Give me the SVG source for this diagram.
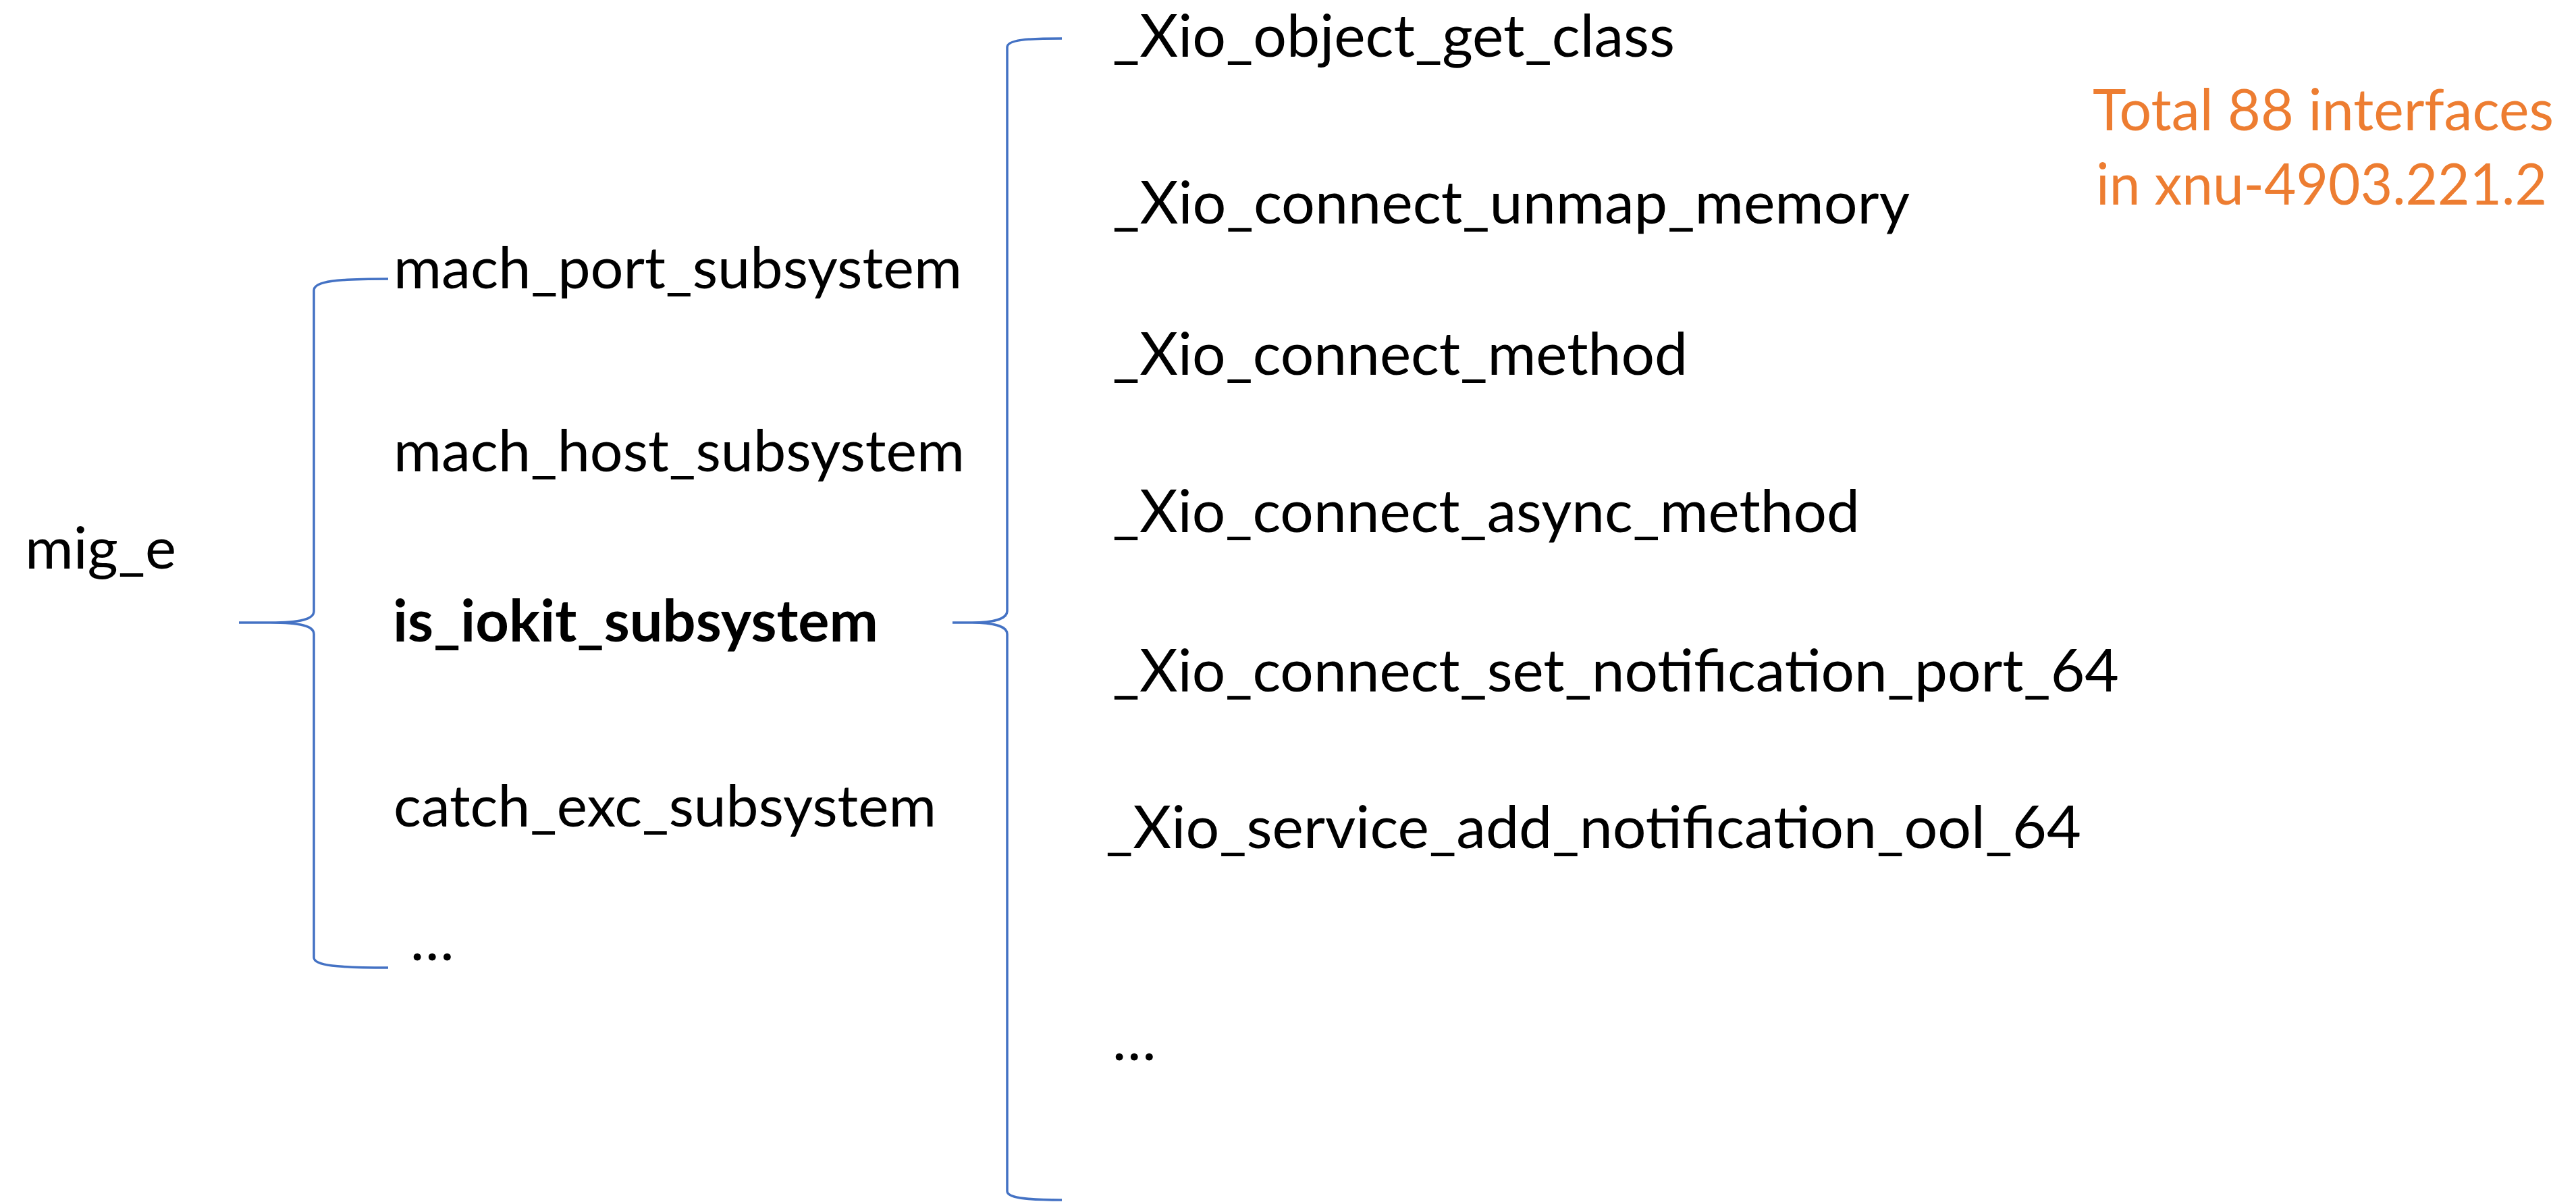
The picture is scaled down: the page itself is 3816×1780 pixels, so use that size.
<svg xmlns="http://www.w3.org/2000/svg" width="3816" height="1780" viewBox="0 0 3816 1780">
<style>
.t{font-family:Lato,"Liberation Sans",sans-serif;font-size:86px;fill:#000}
.r{font-size:87px}
.b{font-weight:bold}
.o{fill:#ED7D31;font-size:85px}
.br{fill:none;stroke:#4472C4;stroke-width:3.5}
</style>
<rect width="3816" height="1780" fill="#fff"/>
<g id="connectors">
<path class="br" d="M575,413 C500,413 465,416 465,430 L465,905 C465,917 445,922 400,922 L354,922 L400,922 C445,922 465,927 465,939 L465,1418 C465,1430 500,1433 575,1433"/>
<path class="br" d="M1573,57 C1520,57 1492,59 1492,70 L1492,905 C1492,917 1470,922 1440,922 L1411,922 L1440,922 C1470,922 1492,927 1492,939 L1492,1764 C1492,1774 1520,1777 1573,1777"/>
</g>
<g id="mig_e"><text class="t" x="37" y="842" textLength="224" lengthAdjust="spacingAndGlyphs">mig_e</text></g>
<g id="mach_port_subsystem"><text class="t" x="583" y="427" textLength="842" lengthAdjust="spacingAndGlyphs">mach_port_subsystem</text></g>
<g id="mach_host_subsystem"><text class="t" x="583" y="698" textLength="846" lengthAdjust="spacingAndGlyphs">mach_host_subsystem</text></g>
<g id="is_iokit_subsystem"><text class="t b" x="582" y="950" textLength="719" lengthAdjust="spacingAndGlyphs">is_iokit_subsystem</text></g>
<g id="catch_exc_subsystem"><text class="t" x="583" y="1224" textLength="804" lengthAdjust="spacingAndGlyphs">catch_exc_subsystem</text></g>
<g id="more_subsystems"><text class="t" x="608" y="1422">…</text></g>
<g id="xio_object_get_class"><text class="t r" x="1648" y="84" textLength="833" lengthAdjust="spacingAndGlyphs">_Xio_object_get_class</text></g>
<g id="xio_connect_unmap_memory"><text class="t r" x="1648" y="331" textLength="1181" lengthAdjust="spacingAndGlyphs">_Xio_connect_unmap_memory</text></g>
<g id="xio_connect_method"><text class="t r" x="1648" y="555" textLength="852" lengthAdjust="spacingAndGlyphs">_Xio_connect_method</text></g>
<g id="xio_connect_async_method"><text class="t r" x="1648" y="788" textLength="1107" lengthAdjust="spacingAndGlyphs">_Xio_connect_async_method</text></g>
<g id="xio_connect_set_notification_port_64"><text class="t r" x="1648" y="1024" textLength="1491" lengthAdjust="spacingAndGlyphs">_Xio_connect_set_notification_port_64</text></g>
<g id="xio_service_add_notification_ool_64"><text class="t r" x="1638" y="1256" textLength="1445" lengthAdjust="spacingAndGlyphs">_Xio_service_add_notification_ool_64</text></g>
<g id="more_interfaces"><text class="t" x="1648" y="1570">…</text></g>
<g id="total_note">
<text class="t o" x="3100" y="193" textLength="683" lengthAdjust="spacingAndGlyphs">Total 88 interfaces</text>
<text class="t o" x="3105" y="303" textLength="668" lengthAdjust="spacingAndGlyphs">in xnu-4903.221.2</text>
</g>
</svg>
